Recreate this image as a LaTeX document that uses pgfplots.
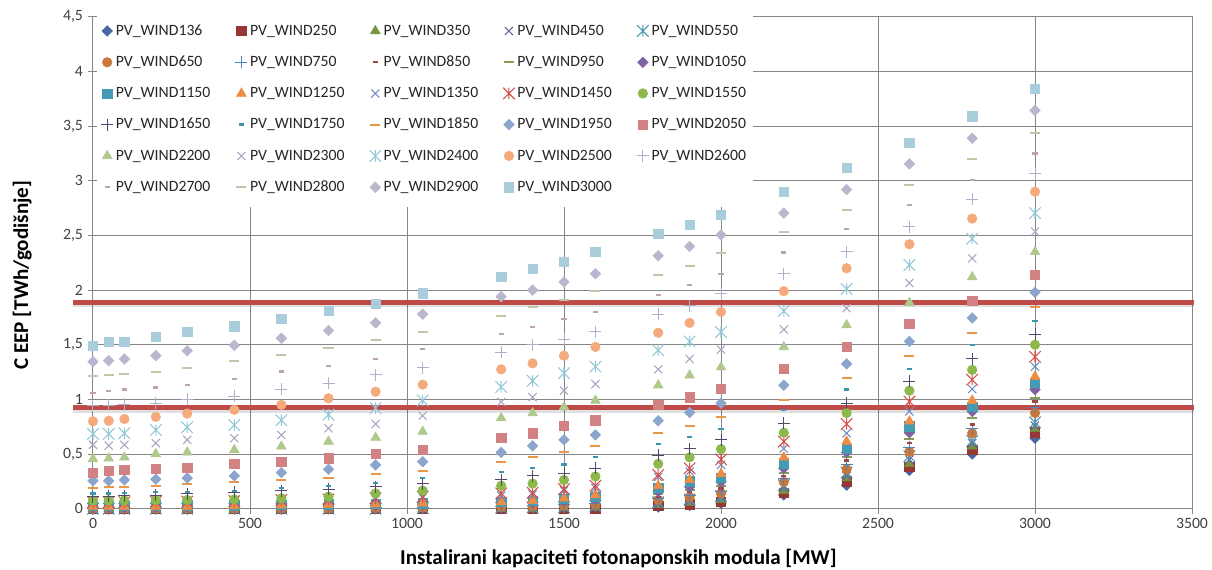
\documentclass[border=0pt]{standalone}
\usepackage{fontspec}
\setmainfont{Carlito}
\usepackage{pgfplots}
\usepackage{pgfplotstable}
\pgfplotsset{compat=1.18}

% Excel "star": an x with a vertical stroke
\pgfdeclareplotmark{xstar}{%
  \pgfpathmoveto{\pgfqpoint{-\pgfplotmarksize}{-\pgfplotmarksize}}%
  \pgfpathlineto{\pgfqpoint{\pgfplotmarksize}{\pgfplotmarksize}}%
  \pgfpathmoveto{\pgfqpoint{-\pgfplotmarksize}{\pgfplotmarksize}}%
  \pgfpathlineto{\pgfqpoint{\pgfplotmarksize}{-\pgfplotmarksize}}%
  \pgfpathmoveto{\pgfqpoint{0pt}{-\pgfplotmarksize}}%
  \pgfpathlineto{\pgfqpoint{0pt}{\pgfplotmarksize}}%
  \pgfusepathqstroke}

\definecolor{gridc}{RGB}{134,134,134}
\definecolor{tickc}{RGB}{64,64,64}
\definecolor{redl}{RGB}{190,75,72}
\definecolor{c136}{RGB}{69,105,160}
\definecolor{c250}{RGB}{150,55,53}
\definecolor{c350}{RGB}{119,147,60}
\definecolor{c450}{RGB}{112,95,158}
\definecolor{c550}{RGB}{70,150,175}
\definecolor{c650}{RGB}{201,120,60}
\definecolor{c750}{RGB}{79,129,189}
\definecolor{c850}{RGB}{160,70,68}
\definecolor{c950}{RGB}{130,160,80}
\definecolor{c1050}{RGB}{128,100,162}
\definecolor{c1150}{RGB}{70,155,180}
\definecolor{c1250}{RGB}{240,140,65}
\definecolor{c1350}{RGB}{110,140,195}
\definecolor{c1450}{RGB}{215,80,75}
\definecolor{c1550}{RGB}{140,185,75}
\definecolor{c1650}{RGB}{85,70,110}
\definecolor{c1750}{RGB}{60,150,175}
\definecolor{c1850}{RGB}{235,150,70}
\definecolor{c1950}{RGB}{140,165,205}
\definecolor{c2050}{RGB}{210,130,130}
\definecolor{c2200}{RGB}{175,200,140}
\definecolor{c2300}{RGB}{170,165,195}
\definecolor{c2400}{RGB}{145,200,215}
\definecolor{c2500}{RGB}{245,170,125}
\definecolor{c2600}{RGB}{170,180,200}
\definecolor{c2700}{RGB}{190,165,165}
\definecolor{c2800}{RGB}{190,200,170}
\definecolor{c2900}{RGB}{185,182,205}
\definecolor{c3000}{RGB}{170,205,220}

\pgfplotstableread{
pv w136 w250 w350 w450 w550 w650 w750 w850 w950 w1050 w1150 w1250 w1350 w1450 w1550 w1650 w1750 w1850 w1950 w2050 w2200 w2300 w2400 w2500 w2600 w2700 w2800 w2900 w3000
0    0 0 0 0 0 0 0 0 0.005 0.01 0.025 0.02 0.055 0.06 0.075 0.11 0.14 0.19 0.255 0.33 0.455 0.585 0.685 0.80 0.94 1.06 1.21 1.345 1.49
50   0 0 0 0 0 0 0 0 0.005 0.01 0.025 0.02 0.055 0.06 0.075 0.115 0.14 0.195 0.255 0.345 0.46 0.577 0.685 0.805 0.945 1.08 1.22 1.355 1.525
100  0 0 0 0 0 0 0 0 0.005 0.01 0.025 0.02 0.055 0.06 0.075 0.12 0.145 0.20 0.263 0.355 0.47 0.585 0.69 0.82 0.955 1.09 1.23 1.37 1.53
200  0 0 0 0 0 0 0 0 0.01 0.015 0.03 0.02 0.06 0.065 0.08 0.125 0.15 0.208 0.27 0.363 0.50 0.60 0.72 0.84 0.965 1.11 1.255 1.40 1.575
300  0 0 0 0 0 0 0 0 0.01 0.015 0.03 0.02 0.06 0.065 0.08 0.135 0.155 0.223 0.28 0.375 0.515 0.63 0.745 0.87 1.00 1.13 1.285 1.445 1.62
450  0 0 0 0 0 0 0 0.005 0.01 0.02 0.03 0.025 0.065 0.07 0.085 0.15 0.165 0.24 0.30 0.41 0.537 0.645 0.765 0.905 1.03 1.19 1.35 1.495 1.67
600  0 0 0 0 0 0 0 0.01 0.015 0.02 0.035 0.03 0.07 0.08 0.095 0.165 0.19 0.263 0.33 0.43 0.57 0.675 0.81 0.95 1.093 1.255 1.405 1.56 1.74
750  0 0 0 0 0 0 0.005 0.01 0.02 0.025 0.04 0.035 0.075 0.085 0.11 0.18 0.21 0.285 0.36 0.46 0.615 0.735 0.86 1.01 1.15 1.307 1.47 1.63 1.81
900  0 0 0 0 0 0.005 0.01 0.015 0.025 0.03 0.045 0.04 0.085 0.095 0.14 0.20 0.233 0.318 0.40 0.505 0.65 0.775 0.92 1.07 1.225 1.37 1.545 1.70 1.875
1050 0 0 0 0 0.005 0.01 0.015 0.02 0.03 0.035 0.05 0.05 0.10 0.11 0.165 0.226 0.28 0.348 0.43 0.537 0.705 0.85 0.99 1.135 1.29 1.46 1.62 1.78 1.97
1300 0 0 0 0.005 0.01 0.015 0.02 0.03 0.04 0.05 0.065 0.06 0.12 0.14 0.21 0.263 0.335 0.425 0.515 0.648 0.83 0.977 1.115 1.275 1.43 1.60 1.765 1.94 2.12
1400 0 0 0 0.005 0.01 0.02 0.025 0.035 0.045 0.055 0.07 0.075 0.13 0.145 0.23 0.30 0.375 0.47 0.575 0.69 0.875 1.02 1.17 1.33 1.50 1.66 1.845 2.0 2.195
1500 0 0 0.005 0.01 0.015 0.025 0.035 0.045 0.055 0.07 0.09 0.095 0.165 0.18 0.263 0.325 0.405 0.515 0.63 0.757 0.93 1.08 1.24 1.40 1.55 1.735 1.91 2.075 2.26
1600 0 0.005 0.01 0.015 0.025 0.035 0.045 0.06 0.07 0.09 0.11 0.125 0.19 0.21 0.295 0.37 0.47 0.57 0.675 0.81 0.99 1.14 1.30 1.48 1.62 1.80 1.99 2.15 2.35
1800 0.015 0.025 0.035 0.045 0.06 0.08 0.095 0.11 0.13 0.16 0.19 0.21 0.29 0.31 0.41 0.49 0.59 0.69 0.805 0.95 1.13 1.275 1.45 1.61 1.78 1.955 2.135 2.315 2.515
1900 0.03 0.04 0.055 0.07 0.085 0.105 0.125 0.15 0.17 0.20 0.25 0.265 0.34 0.37 0.47 0.55 0.655 0.76 0.88 1.02 1.22 1.37 1.53 1.70 1.855 2.045 2.22 2.40 2.60
2000 0.05 0.065 0.08 0.10 0.115 0.14 0.16 0.185 0.21 0.245 0.28 0.32 0.40 0.45 0.545 0.63 0.73 0.84 0.965 1.10 1.295 1.455 1.615 1.80 1.965 2.15 2.34 2.505 2.69
2200 0.125 0.145 0.165 0.195 0.215 0.245 0.275 0.30 0.33 0.37 0.415 0.47 0.55 0.615 0.695 0.78 0.905 0.995 1.13 1.28 1.48 1.64 1.81 1.99 2.15 2.345 2.53 2.705 2.90
2400 0.215 0.25 0.28 0.30 0.33 0.36 0.405 0.44 0.475 0.515 0.55 0.615 0.69 0.775 0.875 0.965 1.09 1.195 1.325 1.48 1.68 1.835 2.01 2.20 2.35 2.56 2.73 2.92 3.12
2600 0.35 0.385 0.41 0.45 0.48 0.52 0.56 0.60 0.64 0.695 0.755 0.80 0.89 0.98 1.08 1.165 1.275 1.40 1.53 1.69 1.885 2.065 2.23 2.42 2.58 2.78 2.965 3.155 3.35
2800 0.50 0.54 0.57 0.60 0.62 0.69 0.73 0.77 0.83 0.89 0.935 0.99 1.095 1.18 1.27 1.37 1.50 1.61 1.745 1.905 2.12 2.29 2.47 2.655 2.83 3.01 3.20 3.39 3.59
3000 0.645 0.70 0.73 0.76 0.79 0.875 0.93 0.98 1.01 1.09 1.15 1.21 1.30 1.39 1.50 1.595 1.72 1.85 1.98 2.14 2.35 2.535 2.705 2.90 3.065 3.25 3.44 3.645 3.84
}\data

\pgfplotsset{
  mkdiam/.style={mark=square*, mark size=2.8pt, mark options={rotate=45}},
  mksq/.style={mark=square*, mark size=3.5pt},
  mktri/.style={mark=triangle*, mark size=4.2pt},
  mkx/.style={mark=x, mark size=4.3pt, mark options={line width=0.8pt}},
  mkstar/.style={mark=xstar, mark size=4.3pt, mark options={line width=0.8pt}},
  mkcirc/.style={mark=*, mark size=3.6pt},
  mkplus/.style={mark=+, mark size=4.5pt, mark options={line width=0.75pt}},
  mksd/.style={mark=-, mark size=2pt, mark options={line width=1.7pt}},
  mkld/.style={mark=-, mark size=3.8pt, mark options={line width=1.5pt}},
  shortleg/.style={legend image code/.code={%
    \draw[mark repeat=2, mark phase=2, #1] plot coordinates {(0pt,0pt) (5pt,0pt) (10pt,0pt)};}},
}

\newcommand{\ser}[2]{%
  \addplot[only marks, color=c#1, #2, shortleg] table[x=pv, y=w#1] {\data};
  \addlegendentry{PV\_WIND#1}}

\begin{document}
\begin{tikzpicture}
\begin{axis}[
  name=ax, at={(0,0)}, anchor=south west,
  scale only axis, width=824.25pt, height=368.8pt,
  xmin=0, xmax=3500, ymin=0, ymax=4.5,
  xtick={0,500,...,3500}, ytick={0,0.5,...,4.5},
  grid=major, grid style={draw=gridc, line width=0.75pt},
  axis line style={draw=gridc, line width=0.75pt},
  tick style={draw=gridc, line width=0.75pt},
  tick align=outside, tick pos=left, major tick length=4pt,
  clip=false,
  /pgf/number format/use comma,
  /pgf/number format/1000 sep={},
  /pgf/number format/assume math mode=true,
  ticklabel style={font=\fontsize{11.8pt}{14pt}\selectfont, text=tickc},
  xlabel={Instalirani kapaciteti fotonaponskih modula [MW]},
  ylabel={C EEP [TWh/godišnje]},
  label style={font=\bfseries\fontsize{15.8pt}{18pt}\selectfont},
  xlabel style={at={(axis description cs:0.478,-0.1145)}, anchor=base},
  ylabel style={at={(axis description cs:-0.0591,0.475)}, anchor=base},
  legend columns=5, legend cell align=left,
  legend style={at={(axis description cs:0.0036,1.012)}, anchor=north west,
    fill=white, draw=none, inner xsep=3pt, inner ysep=8pt,
    font=\fontsize{11.8pt}{14pt}\selectfont, text=black!85,
    row sep=10pt, /tikz/every even column/.append style={column sep=16.75pt}},
]
\ser{136}{mkdiam}
\ser{250}{mksq}
\ser{350}{mktri}
\ser{450}{mkx}
\ser{550}{mkstar}
\ser{650}{mkcirc}
\ser{750}{mkplus}
\ser{850}{mksd}
\ser{950}{mkld}
\ser{1050}{mkdiam}
\ser{1150}{mksq}
\ser{1250}{mktri}
\ser{1350}{mkx}
\ser{1450}{mkstar}
\ser{1550}{mkcirc}
\ser{1650}{mkplus}
\ser{1750}{mksd}
\ser{1850}{mkld}
\ser{1950}{mkdiam}
\ser{2050}{mksq}
\ser{2200}{mktri}
\ser{2300}{mkx}
\ser{2400}{mkstar}
\ser{2500}{mkcirc}
\ser{2600}{mkplus}
\ser{2700}{mksd}
\ser{2800}{mkld}
\ser{2900}{mkdiam}
\ser{3000}{mksq}
% the two red limit lines, with a faint shadow
\addplot[forget plot, no markers, line width=5pt, black, opacity=0.12] coordinates {(-65,1.872) (3505,1.872)};
\addplot[forget plot, no markers, line width=5pt, black, opacity=0.12] coordinates {(-65,0.904) (3505,0.904)};
\addplot[forget plot, no markers, line width=3.8pt, redl] coordinates {(-65,1.89) (3505,1.89)};
\addplot[forget plot, no markers, line width=3.8pt, redl] coordinates {(-65,0.922) (3505,0.922)};
\end{axis}
\pgfresetboundingbox
\path[use as bounding box] (-69.75pt,-45.25pt) rectangle (839.25pt,381.5pt);
\end{tikzpicture}
\end{document}
